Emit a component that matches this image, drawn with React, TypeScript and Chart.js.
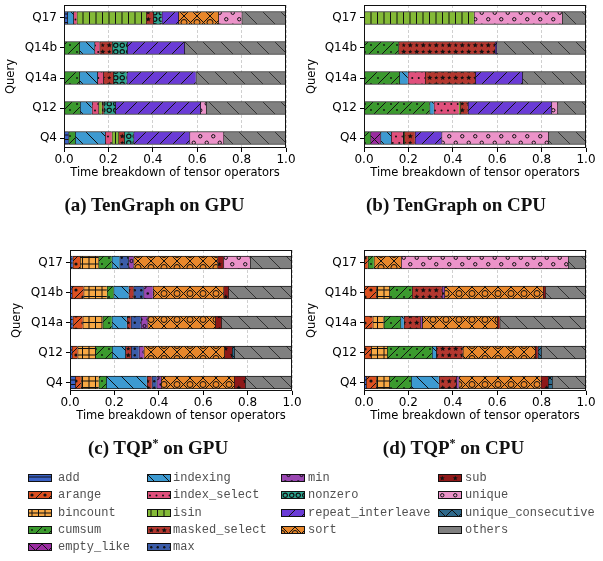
import React, { useEffect, useRef } from "react";
import { Chart, registerables } from "chart.js";
Chart.register(...registerables);

const queries = ["Q4", "Q12", "Q14a", "Q14b", "Q17"];
const operators = [
  "add", "arange", "bincount", "cumsum", "empty_like", "indexing", "index_select", "isin",
  "masked_select", "max", "min", "nonzero", "repeat_interleave", "sort", "sub", "unique",
  "unique_consecutive", "others",
];
const opColors = [
  "#3b62c6", "#dc5020", "#f7a844", "#3b9a2e", "#9a2aa0", "#3d9ad1", "#e0507c", "#84ba37",
  "#b3372f", "#3b5ca8", "#9a47b2", "#2da690", "#6a3bd6", "#e8872b", "#8e1818", "#ec93c9",
  "#2f6a8c", "#808080",
];
const xTicks = [0, 0.2, 0.4, 0.6, 0.8, 1.0];

// one entry per query, in the order of `queries` (Q4 at the bottom, Q17 on top)
const tenGraphGPU: Record<string, number>[] = [
  { add: 0.02, cumsum: 0.03, indexing: 0.135, index_select: 0.03, isin: 0.03, masked_select: 0.026, nonzero: 0.042, repeat_interleave: 0.252, unique: 0.153, others: 0.282 },
  { cumsum: 0.072, indexing: 0.053, index_select: 0.03, isin: 0.015, masked_select: 0.008, nonzero: 0.053, repeat_interleave: 0.383, unique: 0.026, others: 0.36 },
  { cumsum: 0.069, indexing: 0.081, index_select: 0.027, masked_select: 0.045, nonzero: 0.06, repeat_interleave: 0.311, others: 0.407 },
  { cumsum: 0.069, indexing: 0.068, index_select: 0.023, masked_select: 0.056, nonzero: 0.068, repeat_interleave: 0.258, others: 0.458 },
  { add: 0.015, indexing: 0.027, index_select: 0.015, isin: 0.312, masked_select: 0.033, nonzero: 0.038, repeat_interleave: 0.075, sort: 0.18, unique: 0.105, others: 0.2 },
];
const tenGraphCPU: Record<string, number>[] = [
  { cumsum: 0.029, empty_like: 0.045, indexing: 0.048, index_select: 0.053, isin: 0.006, masked_select: 0.048, repeat_interleave: 0.12, unique: 0.481, others: 0.17 },
  { cumsum: 0.295, indexing: 0.019, index_select: 0.113, isin: 0.006, masked_select: 0.035, repeat_interleave: 0.376, unique: 0.027, others: 0.129 },
  { cumsum: 0.159, indexing: 0.038, index_select: 0.078, masked_select: 0.226, repeat_interleave: 0.212, others: 0.287 },
  { cumsum: 0.155, masked_select: 0.436, repeat_interleave: 0.005, others: 0.404 },
  { isin: 0.495, unique: 0.397, others: 0.108 },
];
const tqpGPU: Record<string, number>[] = [
  { add: 0.023, arange: 0.026, bincount: 0.08, cumsum: 0.034, indexing: 0.183, masked_select: 0.022, max: 0.022, min: 0.02, sort: 0.329, sub: 0.05, others: 0.211 },
  { add: 0.008, arange: 0.026, bincount: 0.08, cumsum: 0.075, indexing: 0.06, masked_select: 0.026, max: 0.035, min: 0.022, sort: 0.363, sub: 0.035, unique_consecutive: 0.01, others: 0.26 },
  { add: 0.012, arange: 0.045, bincount: 0.09, cumsum: 0.041, indexing: 0.068, masked_select: 0.018, max: 0.045, min: 0.03, sort: 0.305, sub: 0.027, others: 0.319 },
  { add: 0.008, arange: 0.053, bincount: 0.105, cumsum: 0.03, indexing: 0.068, masked_select: 0.022, max: 0.045, min: 0.042, sort: 0.318, sub: 0.022, others: 0.287 },
  { add: 0.012, arange: 0.033, bincount: 0.083, cumsum: 0.06, indexing: 0.035, max: 0.04, min: 0.023, sort: 0.378, sub: 0.027, unique: 0.12, others: 0.189 },
];
const tqpCPU: Record<string, number>[] = [
  { add: 0.009, arange: 0.045, bincount: 0.06, cumsum: 0.098, indexing: 0.125, masked_select: 0.078, min: 0.011, sort: 0.37, sub: 0.033, unique_consecutive: 0.018, others: 0.153 },
  { arange: 0.032, bincount: 0.072, cumsum: 0.202, indexing: 0.019, masked_select: 0.12, sort: 0.326, sub: 0.012, unique_consecutive: 0.015, others: 0.202 },
  { arange: 0.039, bincount: 0.05, cumsum: 0.075, indexing: 0.015, masked_select: 0.075, min: 0.008, sort: 0.338, sub: 0.011, others: 0.389 },
  { arange: 0.054, bincount: 0.06, cumsum: 0.102, masked_select: 0.135, min: 0.011, sort: 0.444, sub: 0.011, others: 0.183 },
  { arange: 0.017, cumsum: 0.027, sort: 0.123, unique: 0.752, others: 0.081 },
];

const FONT = "DejaVu Sans";
const FS = 11.5;
const TFS = 12;
const LH = FS * 1.2;
const PAD = 15;

function makeTile(op: string, color: string): HTMLCanvasElement {
  const s = op === "others" ? 18 : op === "indexing" ? 15 : 13;
  const c = document.createElement("canvas");
  c.width = s;
  c.height = s;
  const g = c.getContext("2d")!;
  g.fillStyle = color;
  g.fillRect(0, 0, s, s);
  g.strokeStyle = "#111";
  g.fillStyle = "#111";
  g.lineWidth = 1;
  const line = (x1: number, y1: number, x2: number, y2: number) => {
    g.beginPath();
    g.moveTo(x1, y1);
    g.lineTo(x2, y2);
    g.stroke();
  };
  const fwd = () => { for (const k of [-s, 0, s]) line(k, s, k + s, 0); };
  const back = () => { for (const k of [-s, 0, s]) line(k, 0, k + s, s); };
  const dot = (x: number, y: number, r: number) => { g.beginPath(); g.arc(x, y, r, 0, Math.PI * 2); g.fill(); };
  const ring = (x: number, y: number, r: number) => { g.beginPath(); g.arc(x, y, r, 0, Math.PI * 2); g.stroke(); };
  const star = (x: number, y: number, r: number) => {
    g.beginPath();
    for (let i = 0; i < 10; i++) {
      const a = -Math.PI / 2 + (i * Math.PI) / 5;
      const rr = i % 2 === 0 ? r : r * 0.45;
      const px = x + rr * Math.cos(a), py = y + rr * Math.sin(a);
      if (i === 0) g.moveTo(px, py); else g.lineTo(px, py);
    }
    g.closePath();
    g.fill();
  };
  switch (op) {
    case "add": line(0, 2, s, 2); line(0, 6.5, s, 6.5); line(0, 11, s, 11); break;
    case "arange": fwd(); dot(3, 3, 1.6); dot(10, 10, 1.6); break;
    case "bincount": line(3, 0, 3, s); line(9.5, 0, 9.5, s); line(0, 3, s, 3); line(0, 9.5, s, 9.5); break;
    case "cumsum": fwd(); dot(3, 3, 0.9); dot(10, 10, 0.9); break;
    case "empty_like": fwd(); back(); break;
    case "indexing": back(); break;
    case "index_select": dot(2, 3.5, 1); dot(8.5, 3.5, 1); dot(5.25, 10, 1); dot(11.75, 10, 1); break;
    case "isin": line(3, 0, 3, s); line(9.5, 0, 9.5, s); break;
    case "masked_select": star(3.25, 3.25, 2.8); star(9.75, 9.75, 2.8); star(9.75, 3.25, 2.2); star(3.25, 9.75, 2.2); break;
    case "max": dot(3.25, 3.25, 1.2); dot(9.75, 3.25, 1.2); dot(3.25, 9.75, 1.2); dot(9.75, 9.75, 1.2); break;
    case "min": dot(3.25, 6.5, 1.3); dot(9.75, 6.5, 1.3); ring(6.5, 0, 1.6); ring(6.5, 13, 1.6); break;
    case "nonzero": g.lineWidth = 1.2; ring(3.25, 3.25, 2.2); ring(9.75, 3.25, 2.2); ring(3.25, 9.75, 2.2); ring(9.75, 9.75, 2.2); break;
    case "repeat_interleave": fwd(); break;
    case "sort": fwd(); back(); ring(0, 6.5, 3); ring(13, 6.5, 3); break;
    case "sub": star(3.25, 3.25, 2.6); star(9.75, 9.75, 2.6); break;
    case "unique": ring(3.25, 3.25, 1.7); ring(9.75, 9.75, 1.7); break;
    case "unique_consecutive": fwd(); back(); line(0, 6.5, s, 6.5); break;
    case "others": g.strokeStyle = "#333"; back(); break;
  }
  return c;
}

let tileCache: HTMLCanvasElement[] | null = null;
function getTiles(): HTMLCanvasElement[] {
  if (!tileCache) tileCache = operators.map((op, i) => makeTile(op, opColors[i]));
  return tileCache;
}

const spinePlugin = {
  id: "spines",
  afterDatasetsDraw(chart: any) {
    const { ctx, chartArea: a } = chart;
    ctx.save();
    ctx.strokeStyle = "#111";
    ctx.lineWidth = 1;
    const l = Math.round(a.left), t = Math.round(a.top), r = Math.round(a.right), b = Math.round(a.bottom);
    ctx.strokeRect(l + 0.5, t + 0.5, r - l - 1, b - t - 1);
    ctx.restore();
  },
};

type PanelCfg = {
  rows: Record<string, number>[];
  L: number; R: number; T: number; B: number;
  yMin: number; yMax: number;
  titleX: number; xTitleY: number;
};

function Panel({ cfg }: { cfg: PanelCfg }) {
  const ref = useRef<HTMLCanvasElement>(null);
  const canvasLeft = Math.round(cfg.L - PAD - (cfg.L + LH / 2 - cfg.titleX));
  const Yw = cfg.L - PAD - canvasLeft;
  const canvasTop = cfg.T - PAD;
  const Xh = Math.round(cfg.xTitleY + LH / 2 - cfg.B);
  const w = cfg.R + PAD - canvasLeft;
  const h = cfg.B + Xh + PAD - canvasTop;

  useEffect(() => {
    const ctx = ref.current!.getContext("2d")!;
    const tiles = getTiles();
    const datasets = operators.map((op, k) => ({
      label: op,
      data: cfg.rows
        .map((r, qi) => ({ x: r[op] ?? 0, y: qi }))
        .filter((p) => p.x > 0),
      backgroundColor: ctx.createPattern(tiles[k], "repeat") as any,
      borderColor: "#1a1a1a",
      borderWidth: { top: 1, bottom: 1, left: 1, right: 0 },
      borderSkipped: false as const,
      barThickness: 13,
    }));
    const chart = new Chart(ctx, {
      type: "bar",
      data: { datasets } as any,
      plugins: [spinePlugin],
      options: {
        animation: false,
        responsive: false,
        devicePixelRatio: 1,
        indexAxis: "y",
        layout: { padding: PAD },
        plugins: { legend: { display: false }, tooltip: { enabled: false } },
        scales: {
          x: {
            type: "linear",
            stacked: true,
            min: 0,
            max: 1,
            offset: false,
            afterBuildTicks: (s: any) => { s.ticks = xTicks.map((v) => ({ value: v })); },
            afterFit: (s: any) => { s.height = Xh; },
            ticks: {
              color: "#000",
              font: { family: FONT, size: TFS },
              padding: 1,
              maxRotation: 0,
              autoSkip: false,
              callback: (v: any) => Number(v).toFixed(1),
            },
            grid: {
              color: "#c4c4c4",
              lineWidth: 0.8,
              offset: false,
              drawTicks: true,
              tickLength: 4,
              tickColor: "#000",
              tickWidth: 1,
            },
            border: { display: false, dash: [3, 2] },
            title: {
              display: true,
              text: "Time breakdown of tensor operators",
              color: "#000",
              font: { family: FONT, size: FS },
              padding: 0,
            },
          },
          y: {
            type: "linear",
            stacked: true,
            min: cfg.yMin,
            max: cfg.yMax,
            offset: false,
            afterBuildTicks: (s: any) => { s.ticks = queries.map((_, i) => ({ value: i })); },
            afterFit: (s: any) => { s.width = Yw; },
            ticks: {
              color: "#000",
              font: { family: FONT, size: TFS },
              padding: 3,
              autoSkip: false,
              callback: (v: any) => queries[Math.round(Number(v))] ?? "",
            },
            grid: {
              offset: false,
              drawOnChartArea: false,
              drawTicks: true,
              tickLength: 4,
              tickColor: "#000",
              tickWidth: 1,
            },
            border: { display: false },
            title: {
              display: true,
              text: "Query",
              color: "#000",
              font: { family: FONT, size: FS },
              padding: 0,
            },
          },
        },
      } as any,
    });
    return () => chart.destroy();
  }, []);

  return (
    <canvas
      ref={ref}
      width={w}
      height={h}
      style={{ position: "absolute", left: canvasLeft, top: canvasTop, width: w, height: h }}
    />
  );
}

const panels: PanelCfg[] = [
  { rows: tenGraphGPU, L: 64, R: 286, T: 5, B: 148, yMin: -0.333, yMax: 4.433, titleX: 11, xTitleY: 173.5 },
  { rows: tenGraphCPU, L: 364, R: 586, T: 5, B: 148, yMin: -0.333, yMax: 4.433, titleX: 312, xTitleY: 173.5 },
  { rows: tqpGPU, L: 70, R: 292, T: 250, B: 391, yMin: -0.283, yMax: 4.417, titleX: 17, xTitleY: 416.5 },
  { rows: tqpCPU, L: 364, R: 586, T: 250, B: 391, yMin: -0.283, yMax: 4.417, titleX: 312, xTitleY: 416.5 },
];

const captions = [
  { pre: "(a) TenGraph on GPU", x: 154.5, y: 205 },
  { pre: "(b) TenGraph on CPU", x: 456, y: 205 },
  { pre: "(c) TQP", post: " on GPU", x: 158, y: 447.5 },
  { pre: "(d) TQP", post: " on CPU", x: 453.5, y: 447.5 },
];

const legendCols = [
  { patchX: 28, textX: 58, items: ["add", "arange", "bincount", "cumsum", "empty_like"] },
  { patchX: 147, textX: 173, items: ["indexing", "index_select", "isin", "masked_select", "max"] },
  { patchX: 281, textX: 308, items: ["min", "nonzero", "repeat_interleave", "sort"] },
  { patchX: 438, textX: 465, items: ["sub", "unique", "unique_consecutive", "others"] },
];

function Legend() {
  const tiles = getTiles();
  const out: React.ReactNode[] = [];
  legendCols.forEach((col, ci) => {
    col.items.forEach((op, ri) => {
      const k = operators.indexOf(op);
      const cy = 478 + ri * 17.3;
      out.push(
        <div
          key={`p${ci}-${ri}`}
          style={{
            position: "absolute",
            left: col.patchX,
            top: cy - 4,
            width: 24,
            height: 8,
            boxSizing: "border-box",
            border: "1px solid #111",
            backgroundImage: op === "others" ? "none" : `url(${tiles[k].toDataURL()})`,
            backgroundColor: opColors[k],
          }}
        />
      );
      out.push(
        <div
          key={`t${ci}-${ri}`}
          style={{
            position: "absolute",
            left: col.textX,
            top: cy - 8,
            height: 16,
            lineHeight: "16px",
            fontFamily: "'Liberation Mono', monospace",
            fontSize: 12,
            color: "#505050",
            whiteSpace: "nowrap",
          }}
        >
          {op}
        </div>
      );
    });
  });
  return <>{out}</>;
}

export default function App() {
  return (
    <div style={{ position: "absolute", left: 0, top: 0, width: 603, height: 561, background: "#fff", overflow: "hidden" }}>
      {panels.map((p, i) => (
        <Panel key={i} cfg={p} />
      ))}
      {captions.map((c, i) => (
        <div
          key={`c${i}`}
          style={{
            position: "absolute",
            left: c.x - 150,
            width: 300,
            top: c.y - 12,
            height: 24,
            lineHeight: "24px",
            textAlign: "center",
            fontFamily: "'Liberation Serif', serif",
            fontWeight: "bold",
            fontSize: 19,
            color: "#111",
            whiteSpace: "nowrap",
          }}
        >
          {c.pre}
          {c.post !== undefined && (
            <>
              <sup style={{ fontSize: 12, lineHeight: 0 }}>*</sup>
              {c.post}
            </>
          )}
        </div>
      ))}
      <Legend />
    </div>
  );
}
